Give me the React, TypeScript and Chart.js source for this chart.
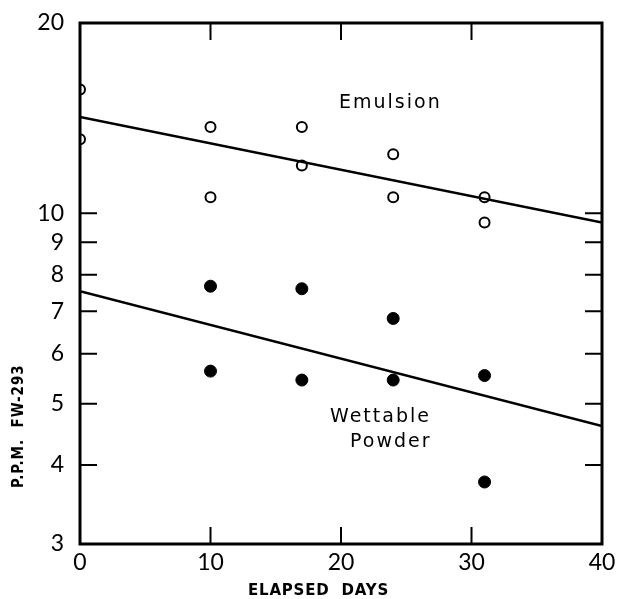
import React, { useEffect, useRef } from "react";
import { Chart, registerables } from "chart.js";

Chart.register(...registerables);

const emulsionDays = [0, 0, 10, 10, 17, 17, 24, 24, 31, 31];
const emulsionPpm = [15.7, 13.1, 13.7, 10.6, 13.7, 11.9, 12.4, 10.6, 10.6, 9.67];
const powderDays = [10, 10, 17, 17, 24, 24, 31, 31];
const powderPpm = [7.67, 5.63, 7.6, 5.45, 6.82, 5.45, 5.54, 3.76];
const emulsionFitDays = [0, 40];
const emulsionFitPpm = [14.2, 9.67];
const powderFitDays = [0, 40];
const powderFitPpm = [7.53, 4.61];
const yTickValues = [3, 4, 5, 6, 7, 8, 9, 10, 20];
const yInnerTicks = [4, 5, 6, 7, 8, 9, 10];
const xInnerTicks = [10, 20, 30];

const TICK_FONT = "Lato, 'DejaVu Sans', sans-serif";

const framePlugin = {
  id: "frame",
  afterDatasetsDraw(chart: any) {
    const { ctx, chartArea, scales } = chart;
    const { left, right, top, bottom } = chartArea;
    ctx.save();
    ctx.strokeStyle = "#000";
    ctx.lineWidth = 3;
    ctx.strokeRect(left, top, right - left, bottom - top);
    ctx.lineWidth = 2;
    const tl = 17;
    ctx.beginPath();
    for (const v of yInnerTicks) {
      const y = scales.y.getPixelForValue(v);
      ctx.moveTo(left, y);
      ctx.lineTo(left + tl, y);
      ctx.moveTo(right, y);
      ctx.lineTo(right - tl, y);
    }
    for (const v of xInnerTicks) {
      const x = scales.x.getPixelForValue(v);
      ctx.moveTo(x, top);
      ctx.lineTo(x, top + tl);
      ctx.moveTo(x, bottom);
      ctx.lineTo(x, bottom - tl);
    }
    ctx.stroke();

    ctx.fillStyle = "#000";
    ctx.textBaseline = "middle";
    ctx.textAlign = "left";
    ctx.font = "19px 'DejaVu Sans', sans-serif";
    (ctx as any).letterSpacing = "2px";
    ctx.fillText("Emulsion", 339, 103);
    ctx.fillText("Wettable", 330, 417);
    ctx.fillText("Powder", 350, 442);

    ctx.font = "bold 15px 'DejaVu Sans', sans-serif";
    (ctx as any).letterSpacing = "0.8px";
    ctx.textAlign = "left";
    ctx.fillText("ELAPSED  DAYS", 248, 591);

    ctx.save();
    ctx.translate(19, 488);
    ctx.rotate(-Math.PI / 2);
    ctx.font = "bold 15px 'DejaVu Sans Condensed', 'DejaVu Sans', sans-serif";
    (ctx as any).letterSpacing = "1px";
    ctx.textAlign = "left";
    ctx.fillText("P.P.M.  FW-293", 0, 0);
    ctx.restore();
    ctx.restore();
  },
};

export default function App() {
  const ref = useRef<HTMLCanvasElement>(null);
  useEffect(() => {
    document.body.style.margin = "0";
    const chart = new Chart(ref.current!, {
      type: "scatter",
      data: {
        datasets: [
          {
            type: "line",
            data: emulsionFitDays.map((d, i) => ({ x: d, y: emulsionFitPpm[i] })),
            borderColor: "#000",
            borderWidth: 2.5,
            pointRadius: 0,
            fill: false,
          },
          {
            type: "line",
            data: powderFitDays.map((d, i) => ({ x: d, y: powderFitPpm[i] })),
            borderColor: "#000",
            borderWidth: 2.5,
            pointRadius: 0,
            fill: false,
          },
          {
            data: emulsionDays.map((d, i) => ({ x: d, y: emulsionPpm[i] })),
            pointRadius: 5,
            pointBackgroundColor: "#fff",
            pointBorderColor: "#000",
            pointBorderWidth: 2,
          },
          {
            data: powderDays.map((d, i) => ({ x: d, y: powderPpm[i] })),
            pointRadius: 6,
            pointBackgroundColor: "#000",
            pointBorderColor: "#000",
            pointBorderWidth: 1,
          },
        ] as any,
      },
      options: {
        animation: false,
        responsive: false,
        layout: { padding: { top: 23, right: 20, left: 0, bottom: 0 } },
        plugins: { legend: { display: false }, tooltip: { enabled: false } },
        scales: {
          x: {
            type: "linear",
            min: 0,
            max: 40,
            grid: { display: false, drawTicks: false },
            border: { display: false },
            ticks: {
              stepSize: 10,
              padding: 5,
              color: "#000",
              font: { family: TICK_FONT, size: 23 },
            },
            afterFit: (s: any) => {
              s.height = 55;
              s.paddingLeft = 0;
              s.paddingRight = 0;
            },
          },
          y: {
            type: "logarithmic",
            min: 3,
            max: 20,
            grid: { display: false, drawTicks: false },
            border: { display: false },
            afterBuildTicks: (s: any) => {
              s.ticks = yTickValues.map((v) => ({ value: v }));
            },
            ticks: {
              padding: 16,
              color: "#000",
              font: { family: TICK_FONT, size: 23 },
              callback: (v: any) => String(v),
            },
            afterFit: (s: any) => {
              s.width = 80;
              s.paddingTop = 0;
              s.paddingBottom = 0;
            },
          },
        },
      },
      plugins: [framePlugin],
    });
    return () => chart.destroy();
  }, []);
  return (
    <div style={{ width: 622, height: 599 }}>
      <canvas ref={ref} width={622} height={599} />
    </div>
  );
}
